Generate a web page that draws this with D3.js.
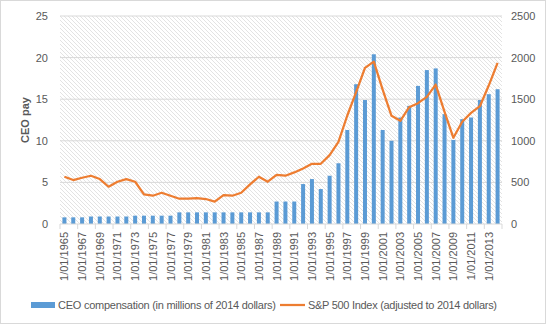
<!DOCTYPE html>
<html>
<head>
<meta charset="utf-8">
<script src="https://cdn.jsdelivr.net/npm/d3@7"></script>
<style>
  body { margin: 0; background: #fff; }
  text { font-family: "Liberation Sans", Arial, sans-serif; fill: #595959; }
</style>
</head>
<body>
<script>
// data
var years = d3.range(1965, 2015);
var ceoPay = [0.8, 0.8, 0.8, 0.9, 0.9, 0.9, 0.9, 0.9, 1.0, 1.0,
              1.0, 1.0, 1.0, 1.4, 1.4, 1.4, 1.4, 1.4, 1.4, 1.4,
              1.4, 1.4, 1.4, 1.4, 2.7, 2.7, 2.7, 4.8, 5.4, 4.2,
              5.8, 7.3, 11.3, 16.8, 14.9, 20.4, 11.3, 10.0, 12.8, 14.2,
              16.6, 18.5, 18.7, 13.2, 10.1, 12.6, 12.8, 14.9, 15.6, 16.2];
var sp500 = [568, 528, 556, 580, 540, 448, 508, 540, 508, 356,
             340, 376, 340, 304, 304, 312, 300, 268, 348, 340,
             376, 476, 568, 508, 590, 580, 620, 668, 724, 724,
             828, 988, 1304, 1584, 1876, 1952, 1616, 1300, 1240, 1404,
             1452, 1528, 1676, 1348, 1036, 1228, 1336, 1416, 1664, 1936];
var leftTicks = [0, 5, 10, 15, 20, 25];
var rightTicks = [0, 500, 1000, 1500, 2000, 2500];

var W = 546, H = 324;
var m = {left: 60, right: 44, top: 16, bottom: 100};

var svg = d3.select("body").append("svg")
    .attr("width", W)
    .attr("height", H);

svg.append("rect")
    .attr("x", 0.5).attr("y", 0.5)
    .attr("width", W - 1).attr("height", H - 1)
    .attr("fill", "#fff").attr("stroke", "#d9d9d9");

// hatched plot background
var pat = svg.append("defs").append("pattern")
    .attr("id", "hatch")
    .attr("patternUnits", "userSpaceOnUse")
    .attr("width", 4).attr("height", 4);
pat.append("path")
    .attr("d", "M-1,-1 L5,5 M-1,3 L1,5 M3,-1 L5,1")
    .attr("stroke", "#e3e3e3").attr("stroke-width", 1);

var x = d3.scaleBand()
    .domain(years)
    .range([m.left, W - m.right]);

var y = d3.scaleLinear()
    .domain([0, 25])
    .range([H - m.bottom, m.top]);

var y2 = d3.scaleLinear()
    .domain([0, 2500])
    .range([H - m.bottom, m.top]);

svg.append("rect")
    .attr("x", m.left).attr("y", m.top)
    .attr("width", W - m.left - m.right)
    .attr("height", H - m.top - m.bottom)
    .attr("fill", "url(#hatch)");

// gridlines
svg.selectAll(".grid")
    .data(leftTicks.slice(1))
    .enter().append("line")
    .attr("x1", m.left).attr("x2", W - m.right)
    .attr("y1", function(d) { return y(d); })
    .attr("y2", function(d) { return y(d); })
    .attr("stroke", "#d9d9d9").attr("stroke-width", 1);

// bars
var barW = 4;
svg.selectAll(".bar")
    .data(ceoPay)
    .enter().append("rect")
    .attr("x", function(d, i) { return x(years[i]) + x.bandwidth() / 2 - barW / 2; })
    .attr("y", function(d) { return y(d); })
    .attr("width", barW)
    .attr("height", function(d) { return y(0) - y(d); })
    .attr("fill", "#5b9bd5");

// line
var line = d3.line()
    .x(function(d, i) { return x(years[i]) + x.bandwidth() / 2; })
    .y(function(d) { return y2(d); });

svg.append("path")
    .datum(sp500)
    .attr("d", line)
    .attr("fill", "none")
    .attr("stroke", "#ed7d31")
    .attr("stroke-width", 2.25)
    .attr("stroke-linejoin", "round");

// x axis
svg.append("line")
    .attr("x1", m.left).attr("x2", W - m.right)
    .attr("y1", y(0)).attr("y2", y(0))
    .attr("stroke", "#d9d9d9");

svg.selectAll(".xtick")
    .data(years.filter(function(d, i) { return i % 2 == 0; }).concat([2015]))
    .enter().append("line")
    .attr("x1", function(d) { return d == 2015 ? W - m.right : x(d); })
    .attr("x2", function(d) { return d == 2015 ? W - m.right : x(d); })
    .attr("y1", y(0)).attr("y2", y(0) + 5)
    .attr("stroke", "#d9d9d9");

svg.selectAll(".xlab")
    .data(years.filter(function(d, i) { return i % 2 == 0; }))
    .enter().append("text")
    .attr("transform", function(d) {
        return "translate(" + (x(d) + x.bandwidth() / 2 + 4) + "," + (y(0) + 8) + ") rotate(-90)";
    })
    .attr("text-anchor", "end")
    .attr("font-size", 11)
    .text(function(d) { return "1/01/" + d; });

// left axis labels
svg.selectAll(".ylab")
    .data(leftTicks)
    .enter().append("text")
    .attr("x", 48)
    .attr("y", function(d) { return y(d) + 4; })
    .attr("text-anchor", "end")
    .attr("font-size", 11)
    .text(function(d) { return d; });

// right axis labels
svg.selectAll(".y2lab")
    .data(rightTicks)
    .enter().append("text")
    .attr("x", W - m.right + 9)
    .attr("y", function(d) { return y2(d) + 4; })
    .attr("text-anchor", "start")
    .attr("font-size", 11)
    .text(function(d) { return d; });

svg.append("text")
    .attr("transform", "translate(29," + ((m.top + H - m.bottom) / 2) + ") rotate(-90)")
    .attr("text-anchor", "middle")
    .attr("font-size", 11)
    .attr("font-weight", "bold")
    .text("CEO pay");

// legend
var lg = svg.append("g");
lg.append("rect")
    .attr("x", 31).attr("y", 302)
    .attr("width", 24).attr("height", 6)
    .attr("fill", "#5b9bd5");
lg.append("text")
    .attr("x", 58).attr("y", 309)
    .attr("font-size", 11)
    .attr("textLength", 218)
    .text("CEO compensation (in millions of 2014 dollars)");
lg.append("line")
    .attr("x1", 280).attr("x2", 305)
    .attr("y1", 305).attr("y2", 305)
    .attr("stroke", "#ed7d31").attr("stroke-width", 2.25);
lg.append("text")
    .attr("x", 308).attr("y", 309)
    .attr("font-size", 11)
    .attr("textLength", 189)
    .text("S&P 500 Index (adjusted to 2014 dollars)");
</script>
</body>
</html>
